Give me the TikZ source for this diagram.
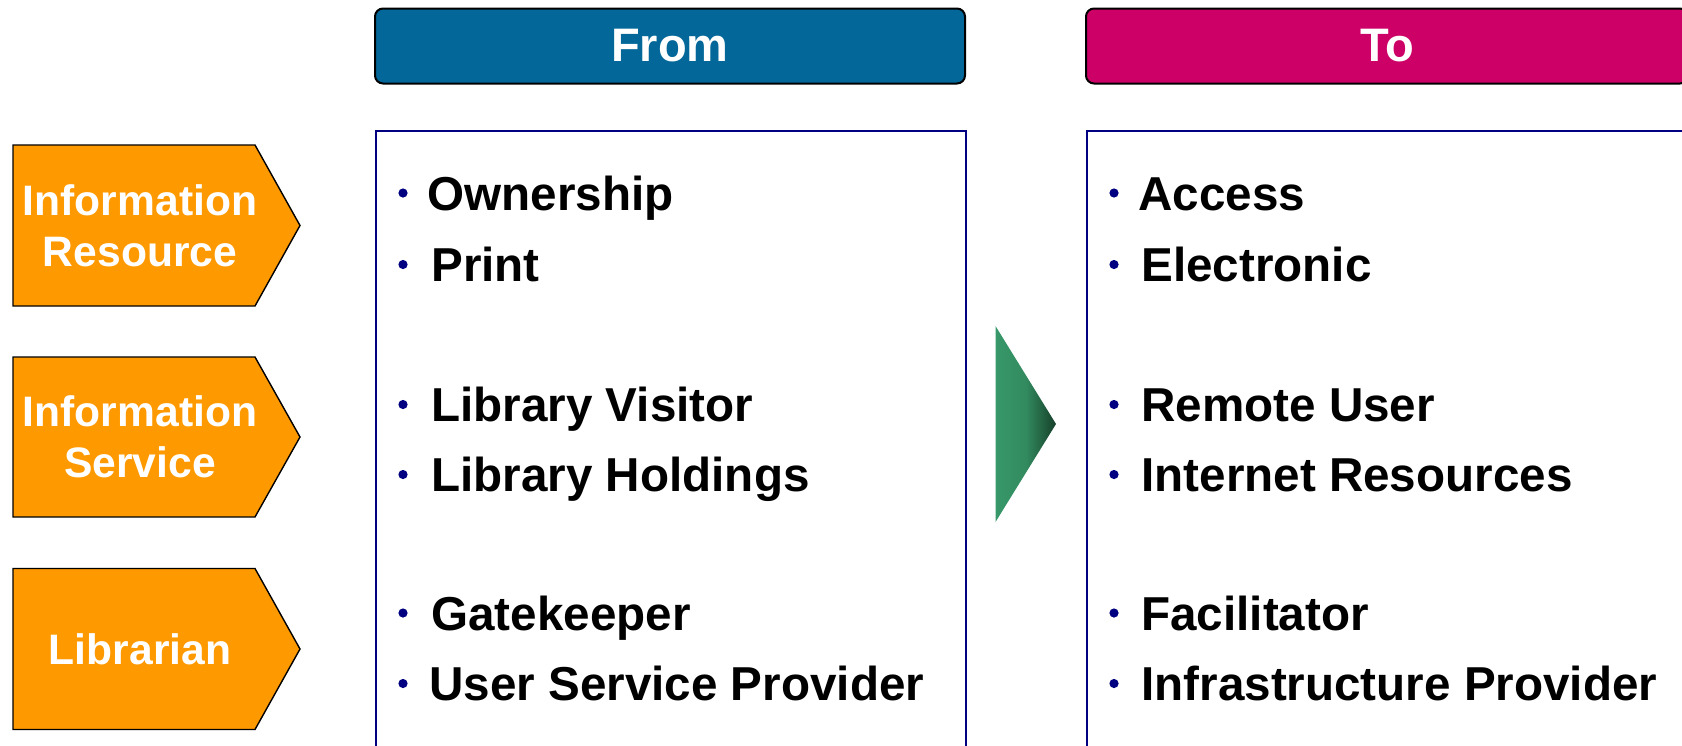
\documentclass[tikz,border=0pt]{standalone}
\usepackage{fontspec}
\setmainfont{Liberation Sans}
\definecolor{fromblue}{RGB}{3,104,153}
\definecolor{topink}{RGB}{204,0,102}
\definecolor{orng}{RGB}{255,153,0}
\definecolor{navyb}{RGB}{0,0,128}
\definecolor{gLight}{RGB}{55,152,105}
\definecolor{gDark}{RGB}{22,64,42}
\begin{document}
\begin{tikzpicture}[x=0.5pt,y=-0.5pt,
  header/.style={draw=black, line width=1pt, rounded corners=4pt, text=white,
    font=\fontsize{23.5}{28}\selectfont\bfseries, minimum height=37.5pt, inner sep=0pt},
  panel/.style={draw=navyb, line width=1.1pt, fill=white, anchor=north west, inner sep=0pt},
  tag/.style={draw=black, line width=0.7pt, fill=orng},
  tagtext/.style={text=white, font=\fontsize{21.3}{25.7}\selectfont\bfseries, align=center, inner sep=0pt},
  itemtext/.style={anchor=base west, inner sep=0pt, font=\fontsize{23.8}{28}\selectfont\bfseries},
  dot/.style={fill=navyb}]
\useasboundingbox (0,0) rectangle (1682,745);
\clip (0,0) rectangle (1682,745);

% headers
\node[header, fill=fromblue, minimum width=295pt] (fromhdr) at (670,46) {From};
\node[header, fill=topink, minimum width=301pt] (tohdr) at (1387,46) {To};

% panels
\node[panel, minimum width=295pt, minimum height=320pt] (frompanel) at (375,130) {};
\node[panel, minimum width=310pt, minimum height=320pt] (topanel) at (1086,130) {};

% tags
\draw[tag] (13,145) -- (255,145) -- (300,225.5) -- (255,306) -- (13,306) -- cycle;
\node[tagtext] (tag1) at (140,225.5) {Information\\Resource};
\draw[tag] (13,357) -- (255,357) -- (300,437) -- (255,517) -- (13,517) -- cycle;
\node[tagtext] (tag2) at (140,437) {Information\\Service};
\draw[tag] (13,568.5) -- (255,568.5) -- (300,649) -- (255,729.5) -- (13,729.5) -- cycle;
\node[tagtext] (tag3) at (140,649) {Librarian};

% green triangle
\shade[left color=gLight, right color=gDark, middle color=gLight!85!gDark]
  (995.5,326) -- (1056,424) -- (995.5,522) -- cycle;

% From items
\node[itemtext] (f1) at (427,210) {Ownership};
\node[itemtext] (f2) at (431,281) {Print};
\node[itemtext] (f3) at (431,421.5) {Library Visitor};
\node[itemtext] (f4) at (431,491.5) {Library Holdings};
\node[itemtext] (f5) at (431,630) {Gatekeeper};
\node[itemtext] (f6) at (429,700.5) {User Service Provider};
\foreach \b/\y in {f1/193, f2/264.5, f3/404.5, f4/474.5, f5/613, f6/683.5}
  \fill[dot] (403,\y) circle[radius=2.3pt];

% To items
\node[itemtext] (t1) at (1138,210) {Access};
\node[itemtext] (t2) at (1141,281) {Electronic};
\node[itemtext] (t3) at (1141,421.5) {Remote User};
\node[itemtext] (t4) at (1141,491.5) {Internet Resources};
\node[itemtext] (t5) at (1141,630) {Facilitator};
\node[itemtext] (t6) at (1141,700.5) {Infrastructure Provider};
\foreach \b/\y in {t1/193, t2/264.5, t3/404.5, t4/474.5, t5/613, t6/683.5}
  \fill[dot] (1114,\y) circle[radius=2.3pt];
\end{tikzpicture}
\end{document}
